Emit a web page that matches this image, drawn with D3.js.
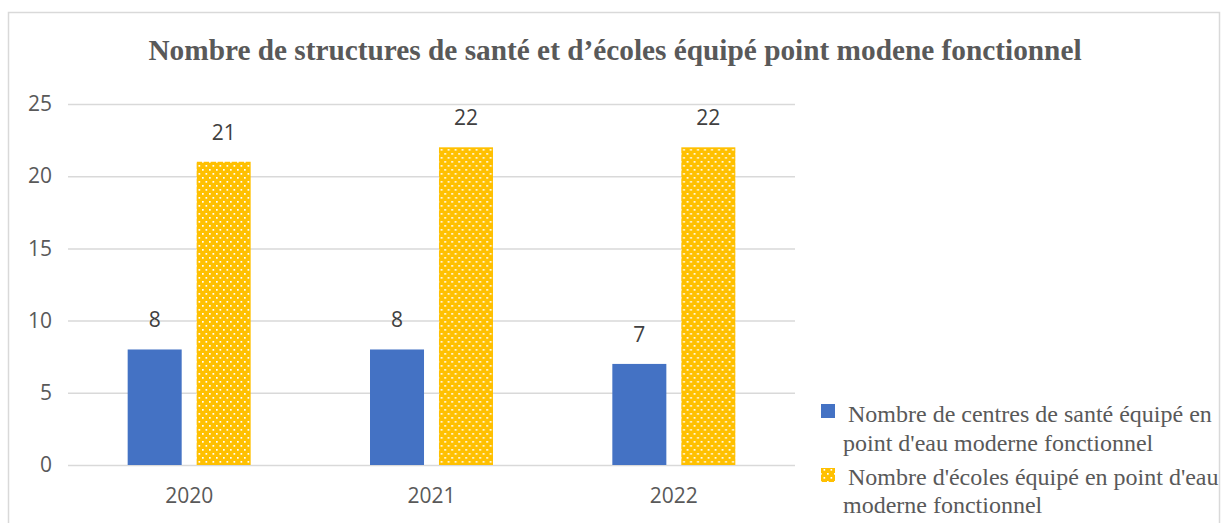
<!DOCTYPE html>
<html>
<head>
<meta charset="utf-8">
<script src="https://cdn.jsdelivr.net/npm/d3@7.9.0/dist/d3.min.js"></script>
<style>
  body { margin: 0; background: #fff; }
  svg { display: block; }
</style>
</head>
<body>
<div id="chart"></div>
<script>
// data
const years = ['2020', '2021', '2022'];
const series = ['sante', 'ecoles'];
const santeValues = [8, 8, 7];
const ecolesValues = [21, 22, 22];
const yTicks = [0, 5, 10, 15, 20, 25];
const legendLabels = [
  ['Nombre de centres de santé équipé en', "point d'eau moderne fonctionnel"],
  ["Nombre d'écoles équipé en point d'eau", 'moderne fonctionnel']
];
const title = 'Nombre de structures de santé et d\u2019écoles équipé point modene fonctionnel';

const width = 1223, height = 523;
const plot = { left: 68, right: 795, top: 104, bottom: 465 };
const numFont = '21px';

const svg = d3.select('#chart').append('svg')
  .attr('width', width)
  .attr('height', height);

// dotted pattern for the yellow series
const defs = svg.append('defs');
const pat = defs.append('pattern')
  .attr('id', 'dots')
  .attr('patternUnits', 'userSpaceOnUse')
  .attr('width', 7).attr('height', 8);
pat.append('rect').attr('width', 7).attr('height', 8).attr('fill', '#FFC000');
pat.append('rect').attr('x', 1).attr('y', 1).attr('width', 1.7).attr('height', 1.7).attr('fill', '#fff');
pat.append('rect').attr('x', 4.5).attr('y', 5).attr('width', 1.7).attr('height', 1.7).attr('fill', '#fff');

// chart border
svg.append('rect')
  .attr('x', 8.5).attr('y', 12.5)
  .attr('width', 1211).attr('height', 540)
  .attr('fill', 'none')
  .attr('stroke', '#d9d9d9')
  .attr('stroke-width', 1.5);

// title
svg.append('text')
  .attr('x', 615).attr('y', 60)
  .attr('text-anchor', 'middle')
  .style('font-family', '"Liberation Serif", "Times New Roman", serif')
  .style('font-weight', 'bold')
  .style('font-size', '29.3px')
  .attr('fill', '#595959')
  .text(title);

const x0 = d3.scaleBand().domain(years).range([plot.left, plot.right]).padding(0);
const groupW = 123;
const x1 = d3.scaleBand().domain(series)
  .range([(x0.bandwidth() - groupW) / 2, (x0.bandwidth() + groupW) / 2])
  .paddingInner(0.217);
const y = d3.scaleLinear().domain([0, 25]).range([plot.bottom, plot.top]);

// gridlines
svg.append('g')
  .attr('class', 'gridlines')
  .attr('transform', `translate(${plot.left},0)`)
  .call(d3.axisLeft(y).tickValues(yTicks).tickFormat('').tickSize(-(plot.right - plot.left)))
  .call(g => g.select('.domain').remove())
  .call(g => g.selectAll('line').attr('stroke', '#d9d9d9').attr('stroke-width', 1.5));

// y labels
svg.append('g')
  .attr('transform', `translate(${plot.left},0)`)
  .call(d3.axisLeft(y).tickValues(yTicks).tickSize(0).tickPadding(16))
  .call(g => g.select('.domain').remove())
  .call(g => g.selectAll('text')
    .attr('fill', '#595959')
    .style('font-family', '"Open Sans", sans-serif')
    .style('font-size', numFont));

// x labels
svg.append('g')
  .attr('transform', `translate(0,${plot.bottom})`)
  .call(d3.axisBottom(x0).tickSize(0).tickPadding(23))
  .call(g => g.select('.domain').remove())
  .call(g => g.selectAll('text')
    .attr('fill', '#595959')
    .style('font-family', '"Open Sans", sans-serif')
    .style('font-size', numFont));

const rows = years.map((yr, i) => ({ year: yr, sante: santeValues[i], ecoles: ecolesValues[i] }));
const fills = { sante: '#4472C4', ecoles: 'url(#dots)' };

const groups = svg.append('g').selectAll('g')
  .data(rows)
  .join('g')
  .attr('transform', d => `translate(${x0(d.year)},0)`);

groups.selectAll('rect')
  .data(d => series.map(k => ({ key: k, value: d[k] })))
  .join('rect')
  .attr('x', d => x1(d.key))
  .attr('width', x1.bandwidth())
  .attr('y', d => y(d.value))
  .attr('height', d => y(0) - y(d.value))
  .attr('fill', d => fills[d.key]);

groups.selectAll('text.lbl')
  .data(d => series.map(k => ({ key: k, value: d[k] })))
  .join('text')
  .attr('class', 'lbl')
  .attr('x', d => x1(d.key) + x1.bandwidth() / 2)
  .attr('y', d => y(d.value) - 22)
  .attr('text-anchor', 'middle')
  .attr('fill', '#404040')
  .style('font-family', '"Open Sans", sans-serif')
  .style('font-size', numFont)
  .text(d => d.value);

// legend
const legend = svg.append('g')
  .style('font-family', '"Liberation Serif", "Times New Roman", serif')
  .style('font-size', '24px')
  .attr('fill', '#595959');

const legendFills = ['#4472C4', 'url(#dots)'];
const legendSquareY = [404, 468];
const legendBaselines = [[422, 451], [485, 513]];
legendLabels.forEach((lines, i) => {
  legend.append('rect')
    .attr('x', 821).attr('y', legendSquareY[i])
    .attr('width', 14).attr('height', 14)
    .attr('fill', legendFills[i]);
  legend.append('text')
    .attr('x', 848).attr('y', legendBaselines[i][0])
    .text(lines[0]);
  legend.append('text')
    .attr('x', 843).attr('y', legendBaselines[i][1])
    .text(lines[1]);
});
</script>
</body>
</html>
